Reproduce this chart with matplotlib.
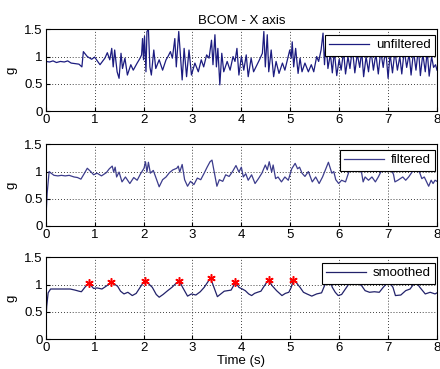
import matplotlib
matplotlib.use("Agg")
import matplotlib.pyplot as plt

plt.rcParams['font.family'] = ['Liberation Sans', 'DejaVu Sans']

title = "BCOM - X axis"
xlabel = "Time (s)"
ylabel = "g"
xticks = [0, 1, 2, 3, 4, 5, 6, 7, 8]
yticks = [0, 0.5, 1, 1.5]
ytick_labels = ["0", "0.5", "1", "1.5"]

unf_t = [0, 0.08, 0.15, 0.22, 0.3, 0.38, 0.45, 0.52, 0.6, 0.68, 0.74, 0.77, 0.85, 0.94, 1.0, 1.11,
         1.21, 1.26, 1.31, 1.35, 1.38, 1.41, 1.46, 1.50, 1.54, 1.57, 1.62, 1.67, 1.74, 1.79, 1.87,
         1.93, 1.96, 1.98, 2.0, 2.02, 2.05, 2.07, 2.1, 2.13, 2.16, 2.21, 2.25, 2.32, 2.39, 2.46,
         2.5, 2.55, 2.59, 2.64, 2.67, 2.72, 2.76, 2.79, 2.83, 2.88, 2.93, 2.98, 3.05, 3.12, 3.18,
         3.23, 3.29, 3.34, 3.39, 3.42, 3.46, 3.49, 3.52, 3.56, 3.6, 3.64, 3.71, 3.77, 3.83, 3.87,
         3.91, 3.95, 4.0, 4.05, 4.1, 4.14, 4.2, 4.25, 4.32, 4.37, 4.43, 4.46, 4.49, 4.53, 4.56,
         4.61, 4.66, 4.71, 4.77, 4.84, 4.89, 4.95, 4.99, 5.02, 5.04, 5.07, 5.11, 5.16, 5.2, 5.24,
         5.3, 5.37, 5.43, 5.48, 5.54, 5.58, 5.63, 5.67, 5.7, 5.73, 5.77,
         5.82, 5.86, 5.9, 5.95, 6.0, 6.04, 6.09, 6.13, 6.18, 6.22, 6.27, 6.32, 6.37, 6.42, 6.46,
         6.5, 6.55, 6.6, 6.65, 6.7, 6.75, 6.8, 6.85, 6.9, 6.95, 7.0, 7.04, 7.09, 7.14, 7.19, 7.24,
         7.28, 7.33, 7.38, 7.43, 7.47, 7.52, 7.57, 7.62, 7.66, 7.71, 7.76, 7.8, 7.84, 7.89, 7.93,
         7.97, 8.0]
unf_g = [0.91, 0.90, 0.92, 0.89, 0.91, 0.90, 0.92, 0.88, 0.87, 0.86, 0.81, 1.09, 1.0, 0.95, 0.99, 0.85,
         0.97, 1.07, 0.94, 1.15, 0.81, 1.12, 0.72, 0.60, 1.06, 0.78, 0.97, 0.66, 0.85, 0.75, 0.88,
         0.97, 1.03, 1.33, 0.94, 1.37, 0.72, 1.46, 1.50, 0.81, 0.66, 1.12, 0.78, 0.94, 0.75, 0.94,
         1.0, 1.09, 0.97, 1.33, 0.81, 1.46, 0.94, 0.57, 1.15, 0.63, 1.12, 0.66, 0.88, 0.72, 0.94,
         0.81, 1.03, 0.97, 1.30, 0.85, 1.40, 0.81, 1.15, 0.48, 1.06, 0.72, 0.91, 0.75, 1.0, 0.91,
         1.15, 0.66, 1.0, 0.75, 1.03, 0.63, 0.97, 0.72, 0.85, 0.94, 1.06, 1.46, 0.81, 1.40, 0.72,
         1.12, 0.63, 0.91, 0.69, 0.88, 0.75, 0.97, 1.12, 0.97, 1.27, 0.81, 1.15, 0.69, 0.97, 0.72,
         0.88, 0.72, 0.85, 0.72, 1.0, 0.91, 1.12, 1.43, 0.85, 1.30, 0.78,
         1.05, 0.70, 1.10, 0.65, 0.95, 0.75, 1.10, 0.68, 1.0, 0.78, 1.15, 0.70, 1.05, 0.80, 1.10,
         0.63, 1.0, 0.72, 1.12, 0.75, 1.05, 0.68, 1.10, 0.80, 1.15, 0.60, 1.05, 0.70, 1.10, 0.75, 1.0,
         0.68, 1.12, 0.80, 1.05, 0.66, 1.10, 0.75, 1.15, 0.65, 1.05, 0.72, 1.10, 0.64, 1.0, 0.80,
         0.85, 0.75]

fil_t = [0, 0.03, 0.07, 0.11, 0.17, 0.25, 0.32, 0.4, 0.48, 0.58, 0.65, 0.72, 0.78, 0.85, 0.92, 0.98,
         1.05, 1.14, 1.24, 1.3, 1.36, 1.39, 1.42, 1.45, 1.5, 1.56, 1.63, 1.72, 1.8, 1.87, 1.94, 2.01,
         2.04, 2.07, 2.1, 2.14, 2.2, 2.32, 2.39, 2.46, 2.53, 2.6, 2.68, 2.71, 2.74, 2.79, 2.84, 2.9,
         2.96, 3.03, 3.1, 3.17, 3.24, 3.3, 3.36, 3.4, 3.45, 3.5, 3.55, 3.62, 3.68, 3.75, 3.82, 3.89,
         3.95, 4.0, 4.04, 4.09, 4.14, 4.21, 4.28, 4.35, 4.42, 4.49, 4.53, 4.57, 4.62, 4.65, 4.7, 4.75,
         4.82, 4.89, 4.96, 5.03, 5.1, 5.15, 5.19, 5.24, 5.3, 5.37, 5.45, 5.52, 5.59, 5.66, 5.74, 5.78,
         5.85, 5.89, 5.93, 5.99, 6.05, 6.13, 6.2, 6.3, 6.4, 6.46, 6.49, 6.53, 6.6, 6.67, 6.74, 6.8,
         6.85, 6.95, 7.05, 7.11, 7.14, 7.2, 7.3, 7.36, 7.42, 7.49, 7.57, 7.65, 7.69, 7.74, 7.83, 7.88,
         7.92, 7.96, 8.0]
fil_g = [0.08, 0.60, 1.0, 0.97, 0.93, 0.92, 0.93, 0.92, 0.93, 0.90, 0.89, 0.86, 0.95, 1.06, 1.0, 0.94,
         0.97, 0.92, 0.98, 1.05, 1.10, 0.99, 1.08, 0.90, 0.99, 0.81, 0.90, 0.78, 0.89, 0.84, 0.96, 1.06,
         1.18, 0.99, 1.17, 0.97, 1.02, 0.72, 0.85, 0.90, 0.98, 1.03, 1.06, 1.10, 0.99, 1.13, 0.85, 0.73,
         0.82, 0.76, 0.88, 0.85, 0.97, 1.08, 1.18, 1.21, 0.97, 0.73, 0.85, 0.82, 0.94, 0.91, 1.0, 1.11,
         0.99, 1.08, 0.90, 0.96, 0.84, 0.94, 0.78, 0.87, 0.97, 1.12, 1.03, 1.18, 0.99, 1.12, 0.87, 0.90,
         0.81, 0.90, 0.84, 1.05, 1.15, 1.05, 1.08, 0.97, 0.91, 1.0, 0.81, 0.90, 0.78, 0.90, 1.08, 1.17,
         0.97, 1.0, 0.85, 0.78, 0.84, 0.81, 1.0, 1.10, 1.05, 0.97, 0.81, 0.90, 0.84, 0.90, 0.81, 0.90,
         0.99, 1.12, 1.05, 0.95, 0.81, 0.84, 0.90, 0.84, 0.90, 0.99, 1.10, 0.97, 0.87, 0.90, 0.73, 0.84,
         0.78, 0.84, 0.82]

smo_t = [0, 0.02, 0.05, 0.1, 0.2, 0.35, 0.5, 0.6, 0.68, 0.73, 0.8, 0.88, 0.94, 0.98, 1.05, 1.1, 1.15,
         1.25, 1.34, 1.42, 1.47, 1.53, 1.6, 1.68, 1.77, 1.85, 1.93, 2.02, 2.1, 2.18, 2.26, 2.32, 2.4,
         2.48, 2.58, 2.66, 2.73, 2.8, 2.9, 2.98, 3.07, 3.16, 3.24, 3.3, 3.37, 3.44, 3.51, 3.58, 3.65,
         3.72, 3.79, 3.84, 3.88, 3.95, 4.02, 4.08, 4.15, 4.21, 4.27, 4.33, 4.4, 4.45, 4.51, 4.56, 4.63,
         4.72, 4.83, 4.9, 4.97, 5.02, 5.06, 5.12, 5.2, 5.27, 5.34, 5.44, 5.54, 5.64, 5.7, 5.75, 5.8,
         5.86, 5.92, 5.98, 6.05, 6.15, 6.25, 6.35, 6.46, 6.53, 6.62, 6.72, 6.82, 6.9, 7.0, 7.06, 7.1,
         7.15, 7.26, 7.36, 7.45, 7.49, 7.57, 7.65, 7.76, 7.86, 7.96, 8.0]
smo_g = [0.25, 0.60, 0.85, 0.92, 0.92, 0.92, 0.92, 0.90, 0.88, 0.87, 0.95, 1.03, 0.97, 0.93, 0.94, 0.93, 0.92,
         0.98, 1.05, 1.0, 0.97, 0.88, 0.83, 0.86, 0.80, 0.84, 0.95, 1.07, 1.02, 0.95, 0.82, 0.77, 0.82,
         0.88, 0.95, 1.02, 1.07, 0.95, 0.79, 0.83, 0.81, 0.87, 0.95, 1.03, 1.12, 0.95, 0.78, 0.83, 0.88,
         0.89, 0.90, 0.98, 1.05, 0.95, 0.92, 0.89, 0.83, 0.80, 0.84, 0.86, 0.88, 0.95, 1.03, 1.08, 0.98,
         0.89, 0.80, 0.84, 0.86, 0.95, 1.08, 1.04, 0.95, 0.86, 0.83, 0.79, 0.83, 0.85, 0.98, 1.07, 1.10,
         0.95, 0.86, 0.80, 0.82, 0.95, 1.08, 1.05, 0.98, 0.89, 0.86, 0.87, 0.86, 0.95, 1.05, 1.0, 0.95,
         0.80, 0.81, 0.89, 0.92, 0.97, 1.05, 0.95, 0.83, 0.86, 0.83, 0.85]

peak_t = [0.88, 1.34, 2.02, 2.73, 3.37, 3.88, 4.56, 5.06]
peak_g = [1.03, 1.05, 1.07, 1.07, 1.12, 1.05, 1.08, 1.08]

fig = plt.figure(figsize=(4.4, 3.69), dpi=100)
W, H = 440.0, 369.0
rects = [(45.7, 29.3, 437, 111), (45.7, 144.3, 437, 226), (45.7, 257.3, 437, 339.3)]
axes = []
for (x0, y0, x1, y1) in rects:
    ax = fig.add_axes([x0 / W, 1 - y1 / H, (x1 - x0) / W, (y1 - y0) / H])
    axes.append(ax)

series = [(unf_t, unf_g, '#1c1c80', 'unfiltered'),
          (fil_t, fil_g, '#3c3c8c', 'filtered'),
          (smo_t, smo_g, '#22226a', 'smoothed')]

FS = 9.5
for ax, (tt, gg, col, lab) in zip(axes, series):
    ax.plot(tt, gg, color=col, lw=0.9, label=lab)
    ax.set_xlim(0, 8)
    ax.set_ylim(0, 1.5)
    ax.set_xticks(xticks)
    ax.set_yticks(yticks)
    ax.set_yticklabels(ytick_labels)
    ax.grid(True, color='black', linestyle=(0, (1, 2.5)), linewidth=0.6)
    ax.tick_params(direction='in', length=3, labelsize=FS, pad=2, colors='black')
    for s in ax.spines.values():
        s.set_linewidth(0.8)
        s.set_color('black')
    ax.set_ylabel(ylabel, fontsize=FS, labelpad=5)
    leg = ax.legend(loc='upper right', bbox_to_anchor=(0.995, 0.935), borderaxespad=0,
                    fontsize=FS, fancybox=False, framealpha=1, edgecolor='black',
                    handlelength=3.0, handletextpad=0.5, borderpad=0.35)
    leg.get_frame().set_linewidth(0.8)
    leg.set_zorder(5)

axes[2].plot(peak_t, peak_g, linestyle='none', marker=(6, 2, 0), color='red',
             markersize=6, markeredgewidth=1.1)

axes[0].set_title(title, fontsize=FS, pad=4)
axes[2].set_xlabel(xlabel, fontsize=FS, labelpad=1)

fig.savefig('out.png', dpi=100)
